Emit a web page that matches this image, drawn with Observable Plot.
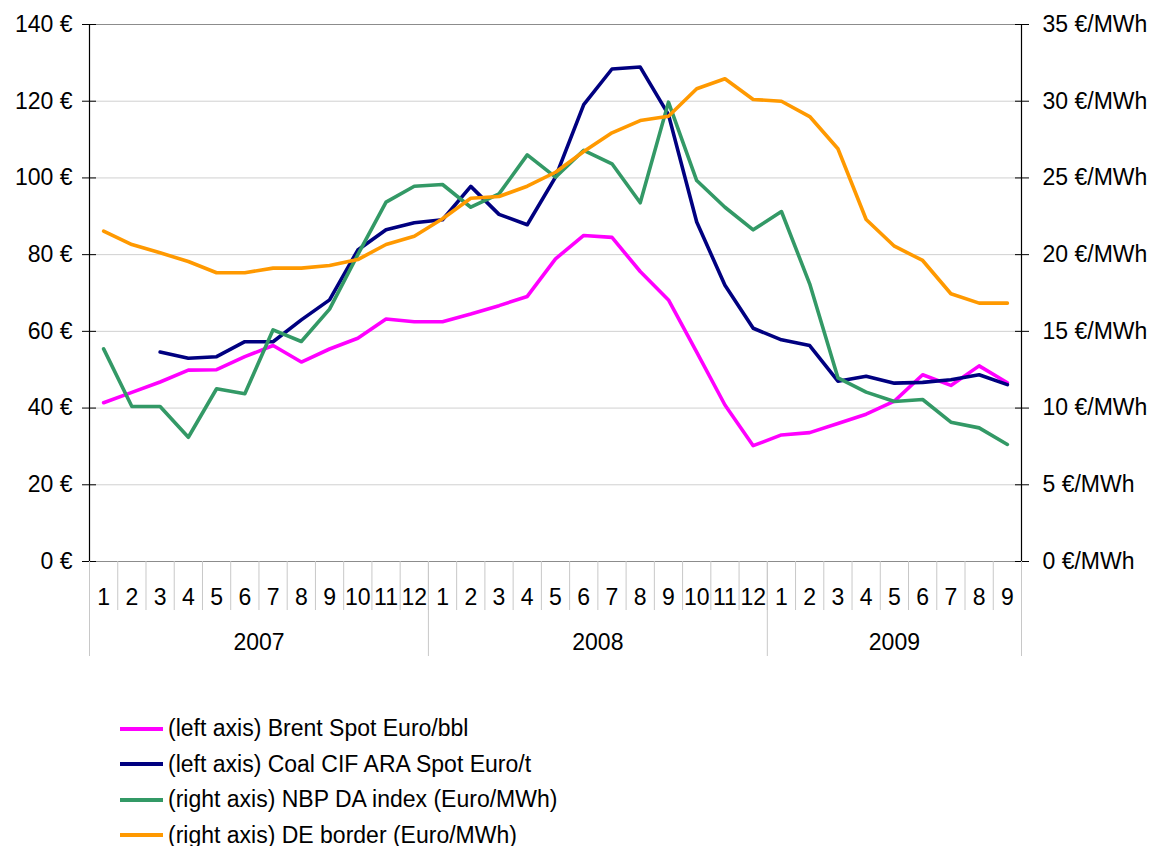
<!DOCTYPE html>
<html><head><meta charset="utf-8">
<script src="https://cdn.jsdelivr.net/npm/d3@7"></script>
<script src="https://cdn.jsdelivr.net/npm/@observablehq/plot@0.6"></script>
<style>
body{margin:0;background:#fff;font-family:"Liberation Sans",Arial,sans-serif;}
#legend{margin-left:120px;margin-top:11px;}
.item{display:flex;align-items:center;height:35.5px;font-size:23px;color:#000;white-space:nowrap;}
.swatch{width:43px;height:4px;margin-right:5px;}
</style></head><body>
<div id="chart"></div>
<div id="legend"></div>
<script>
const months = ["1","2","3","4","5","6","7","8","9","10","11","12","1","2","3","4","5","6","7","8","9","10","11","12","1","2","3","4","5","6","7","8","9"];
const years = ["2007","2008","2009"];
const yearStarts = [0, 12, 24, 33];
const leftTicks = [0,20,40,60,80,100,120,140];
const rightTicks = [0,5,10,15,20,25,30,35];
const brent = [41.4,44.1,46.8,49.9,50.0,53.4,56.3,52.0,55.4,58.2,63.2,62.5,62.5,64.5,66.7,69.1,78.9,85.0,84.5,75.6,68.2,54.6,40.8,30.2,33.0,33.6,36.0,38.4,41.8,48.7,45.9,51.0,46.6];
const coal = [null,null,54.6,53.0,53.4,57.3,57.3,63.0,68.2,81.2,86.5,88.3,89.1,97.8,90.5,87.8,100.2,119.1,128.4,128.9,116.5,88.5,72.0,60.8,57.8,56.3,47.0,48.3,46.5,46.7,47.4,48.7,46.1];
const nbp = [13.86,10.1,10.1,8.1,11.26,10.93,15.1,14.34,16.45,20.0,23.42,24.46,24.57,23.09,23.96,26.5,25.05,26.8,25.92,23.38,29.94,24.83,23.09,21.62,22.81,18.1,11.97,11.04,10.43,10.56,9.08,8.71,7.63];
const deBorder = [21.53,20.66,20.12,19.55,18.82,18.82,19.12,19.12,19.29,19.68,20.66,21.2,22.34,23.68,23.79,24.46,25.37,26.72,27.94,28.74,29.02,30.81,31.46,30.11,30.0,29.0,26.9,22.29,20.55,19.62,17.45,16.84,16.84];

const series = [
  {name:"(left axis) Brent Spot Euro/bbl", values:brent, color:"#ff00ff", k:1},
  {name:"(left axis) Coal CIF ARA Spot Euro/t", values:coal, color:"#000080", k:1},
  {name:"(right axis) NBP DA index (Euro/MWh)", values:nbp, color:"#339966", k:4},
  {name:"(right axis) DE border (Euro/MWh)", values:deBorder, color:"#ff9900", k:4}
];
const ratio = 140/35;
const rows = months.map((m,i)=>({i}));
const monthBounds = d3.range(1, months.length);
const monthCenters = months.map((m,i)=>i+0.5);
const yearCenters = years.map((y,j)=>(yearStarts[j]+yearStarts[j+1])/2);

const lineMarks = series.map(s => Plot.line(rows, {
  x: d => d.i + 0.5,
  y: d => s.values[d.i] == null ? NaN : s.values[d.i] * s.k,
  stroke: s.color, strokeWidth: 3.6, strokeLinejoin: "round"
}));

const chart = Plot.plot({
  width: 1151, height: 700,
  marginTop: 24, marginLeft: 89, marginRight: 130, marginBottom: 139,
  style: {fontFamily: '"Liberation Sans", Arial, sans-serif', fontSize: "23px", color: "#000", background: "#fff"},
  x: {type: "linear", domain: [0, months.length]},
  y: {domain: [0, 140]},
  marks: [
    Plot.ruleY(leftTicks.slice(1, -1), {stroke: "#d0d0d0", strokeWidth: 1}),
    Plot.ruleY([140, 0], {stroke: "#8c8c8c", strokeWidth: 1.2}),
    Plot.ruleX([0, months.length], {stroke: "#000", strokeWidth: 1.2}),
    Plot.axisY({anchor: "left", ticks: leftTicks, tickSize: 14, dx: 7, tickPadding: 10, tickFormat: d => d + " €", label: null}),
    Plot.axisY({anchor: "right", ticks: leftTicks, tickSize: 14, dx: -7, tickPadding: 14, tickFormat: d => (d / ratio) + " €/MWh", label: null}),
    Plot.axisX({anchor: "bottom", ticks: monthBounds, tickSize: 49, tickFormat: () => "", stroke: "#c8c8c8", label: null}),
    Plot.axisX({anchor: "bottom", ticks: yearStarts, tickSize: 95, tickFormat: () => "", stroke: "#c8c8c8", label: null}),
    Plot.axisX({anchor: "bottom", ticks: monthCenters, tickSize: 0, tickPadding: 27, tickFormat: d => months[Math.floor(d)], label: null}),
    Plot.axisX({anchor: "bottom", ticks: yearCenters, tickSize: 0, tickPadding: 72, tickFormat: d => years[yearCenters.indexOf(d)], label: null}),
    ...lineMarks
  ]
});
document.getElementById("chart").appendChild(chart);

const legend = document.getElementById("legend");
for (const s of series) {
  const it = document.createElement("div"); it.className = "item";
  const sw = document.createElement("span"); sw.className = "swatch"; sw.style.background = s.color;
  const tx = document.createElement("span"); tx.textContent = s.name;
  it.appendChild(sw); it.appendChild(tx); legend.appendChild(it);
}
</script>
</body></html>
